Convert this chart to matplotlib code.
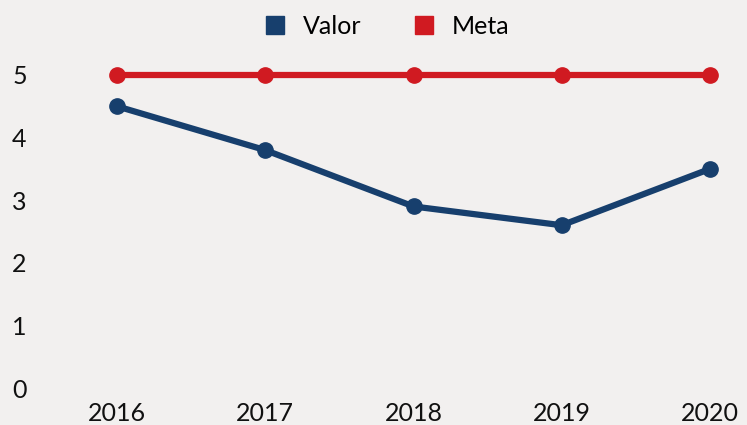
import matplotlib.pyplot as plt
from matplotlib.lines import Line2D

years = ['2016', '2017', '2018', '2019', '2020']
valor = [4.5, 3.8, 2.9, 2.6, 3.5]
meta = [5, 5, 5, 5, 5]
yticks = [0, 1, 2, 3, 4, 5]

bg = '#f2f0ef'
navy = '#173f6d'
red = '#d01a21'

plt.rcParams['font.family'] = ['Lato', 'DejaVu Sans']

fig = plt.figure(figsize=(7.47, 4.25), dpi=100, facecolor=bg)
W, H = 747, 425
ax = fig.add_axes([117 / W, 1 - 388 / H, (710 - 117) / W, (388 - 75) / H])
ax.set_facecolor(bg)

x = range(len(years))
ax.plot(x, meta, color=red, lw=4.5, marker='o', ms=11, solid_capstyle='round', zorder=3, clip_on=False)
ax.plot(x, valor, color=navy, lw=4.5, marker='o', ms=11, solid_capstyle='round', zorder=3, clip_on=False)

ax.set_xlim(0, len(years) - 1)
ax.set_ylim(0, 5)
ax.set_xticks(list(x))
ax.set_xticklabels(years)
ax.set_yticks(yticks)
for s in ax.spines.values():
    s.set_visible(False)
ax.tick_params(axis='both', length=0, labelsize=18, colors='#111111')
ax.tick_params(axis='x', pad=10)
ax.tick_params(axis='y', pad=65)

handles = [Line2D([], [], marker='s', ls='', color=navy, ms=13),
           Line2D([], [], marker='s', ls='', color=red, ms=13)]
fig.legend(handles, ['Valor', 'Meta'], loc='center', bbox_to_anchor=(386 / W, 1 - 26 / H),
           ncol=2, frameon=False, fontsize=18, handletextpad=0.6, columnspacing=2.0,
           handlelength=1.0)

fig.savefig('out.png', dpi=100, facecolor=bg)
